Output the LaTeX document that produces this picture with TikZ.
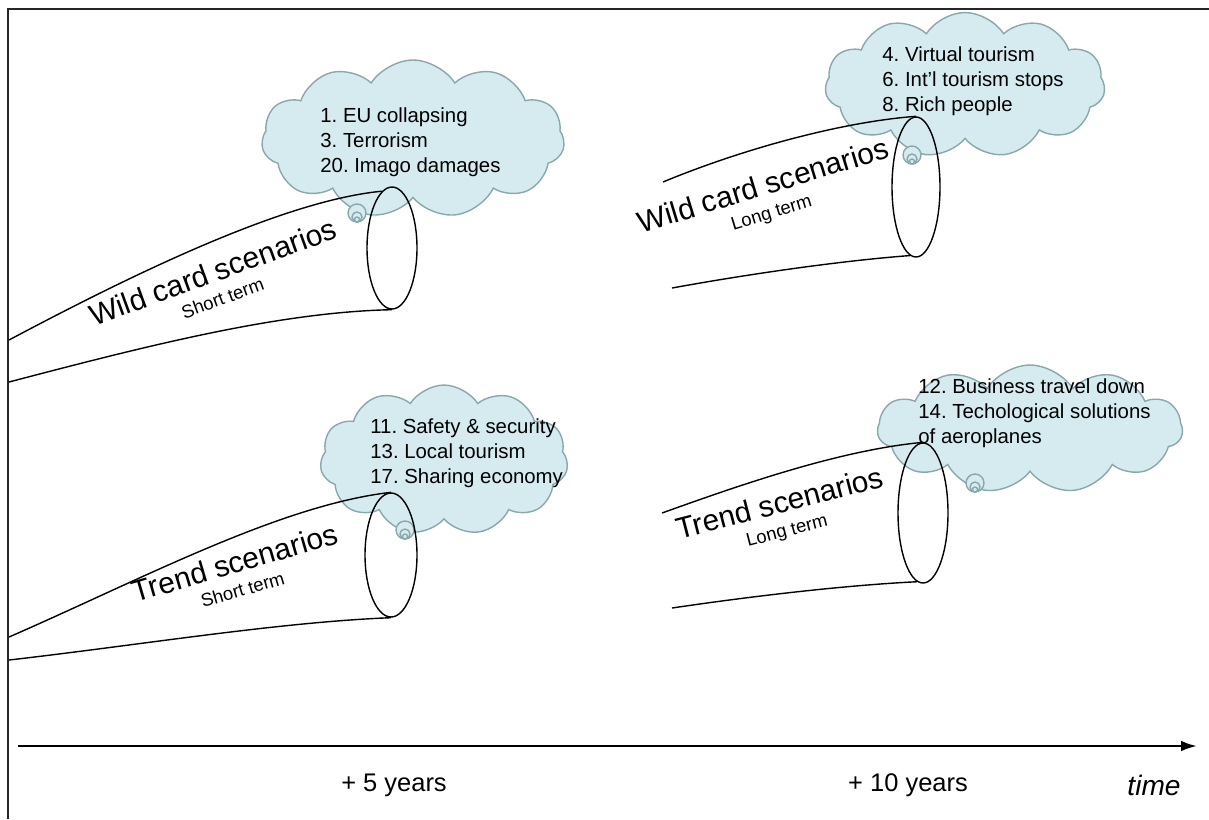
\documentclass[tikz,border=0pt]{standalone}
\usepackage{fontspec}
\setmainfont{Liberation Sans}
\usetikzlibrary{shapes.symbols,shapes.geometric,arrows.meta}
\definecolor{cloudfill}{RGB}{214,235,240}
\definecolor{cloudline}{RGB}{138,168,172}
\frenchspacing
\tikzset{
  thought/.style={cloud, cloud puffs=11, cloud puff arc=115, cloud ignores aspect,
    draw=cloudline, fill=cloudfill, line width=0.8pt, inner sep=0pt},
  thoughttext/.style={anchor=west, align=left, inner sep=0pt,
    font=\fontsize{11.6}{14.2}\selectfont},
  bubble/.style={draw=cloudline, fill=cloudfill, line width=0.8pt},
  mouth/.style={ellipse, draw, line width=0.8pt, inner sep=0pt},
  tube/.style={line width=0.8pt},
  title/.style={align=center, inner sep=0pt, font=\fontsize{17}{13.6}\selectfont},
  years/.style={inner sep=0pt, font=\fontsize{14.5}{17}\selectfont},
  timeline/.style={line width=1.4pt, -{Latex[length=9pt,width=6pt]}}
}
\newcommand{\subterm}[1]{{\fontsize{10.5}{13.6}\selectfont #1}}
\begin{document}
\begin{tikzpicture}[x=0.02cm, y=-0.02cm]
  \useasboundingbox (0,0) rectangle (1209,819);
  % frame
  \draw[line width=1.1pt, black!85] (8,819) -- (8,9) -- (1209,9);

  % thought clouds
  \node[thought, minimum width=6.06cm, minimum height=3.16cm] (wsc) at (413,139) {};
  \node[thought, minimum width=5.6cm, minimum height=2.9cm] (wlc) at (965,85) {};
  \node[thought, minimum width=4.96cm, minimum height=3.0cm] (tsc) at (444,460) {};
  \node[thought, minimum width=6.1cm, minimum height=2.56cm] (tlc) at (1030,429) {};
  \node[thoughttext] (wsl) at (320,142) {1. EU collapsing\\3. Terrorism\\20. Imago damages};
  \node[thoughttext] (wll) at (882,81) {4. Virtual tourism\\6. Int’l tourism stops\\8. Rich people};
  \node[thoughttext] (tsl) at (370,453) {11. Safety \& security\\13. Local tourism\\17. Sharing economy};
  \node[thoughttext] (tll) at (918,413) {12. Business travel down\\14. Techological solutions\\of aeroplanes};

  % small bubbles
  \foreach \bx/\by in {357/213, 912/155, 405/530, 975/483} {
    \draw[bubble] (\bx,\by) circle[radius=0.18cm];
    \draw[bubble] (\bx,\by+4) circle[radius=0.1cm];
    \draw[bubble] (\bx,\by+6.5) circle[radius=0.05cm];
  }

  % funnels
  \node[mouth, minimum width=1cm, minimum height=2.44cm] (ws) at (392,248) {};
  \node[mouth, minimum width=0.96cm, minimum height=2.8cm] (wl) at (916,187) {};
  \node[mouth, minimum width=1.04cm, minimum height=2.48cm] (ts) at (391,555) {};
  \node[mouth, minimum width=1cm, minimum height=2.8cm] (tl) at (923,513) {};
  \coordinate (wsa) at (9,340);   \coordinate (wsb) at (9,382);
  \coordinate (wla) at (663,182); \coordinate (wlb) at (672,288);
  \coordinate (tsa) at (9,637);   \coordinate (tsb) at (9,660);
  \coordinate (tla) at (662,513); \coordinate (tlb) at (672,608);
  \draw[tube] (wsa) .. controls (150,265) and (290,200) .. (ws.100);
  \draw[tube] (wsb) .. controls (150,345) and (280,312) .. (ws.south);
  \draw[tube] (wla) .. controls (740,150) and (840,122) .. (wl.north);
  \draw[tube] (wlb) .. controls (760,272) and (850,260) .. (wl.265);
  \draw[tube] (tsa) .. controls (140,580) and (280,505) .. (ts.north);
  \draw[tube] (tsb) .. controls (140,645) and (280,622) .. (ts.south);
  \draw[tube] (tla) .. controls (740,485) and (840,450) .. (tl.north);
  \draw[tube] (tlb) .. controls (760,595) and (850,585) .. (tl.265);

  % funnel labels
  \node[title, rotate=20] (wst) at (217,283) {Wild card scenarios\\\subterm{Short term}};
  \node[title, rotate=17] (wlt) at (767,198) {Wild card scenarios\\\subterm{Long term}};
  \node[title, rotate=16.3] (tst) at (238,574) {Trend scenarios\\\subterm{Short term}};
  \node[title, rotate=14.5] (tlt) at (783,516) {Trend scenarios\\\subterm{Long term}};

  % time axis
  \coordinate (t0) at (18,746);
  \coordinate (t1) at (1197,746);
  \draw[timeline] (t0) -- (t1);
  \node[years] (y5) at (394,785) {+ 5 years};
  \node[years] (y10) at (908,785) {+ 10 years};
  \node[inner sep=0pt, font=\fontsize{16}{19}\selectfont\itshape] (time) at (1154,785) {time};
\end{tikzpicture}
\end{document}
